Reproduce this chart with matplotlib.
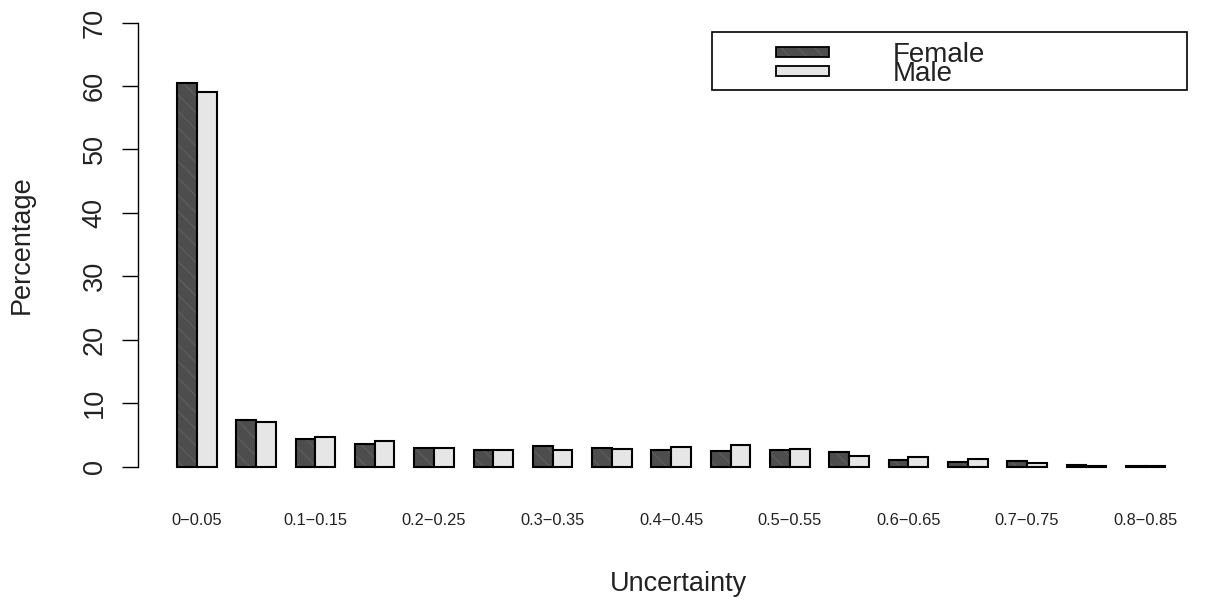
import numpy as np
import matplotlib.pyplot as plt
from matplotlib.patches import Rectangle

plt.rcParams['font.family'] = ['Liberation Sans', 'DejaVu Sans']
plt.rcParams['hatch.linewidth'] = 1.0

# uncertainty bins
categories = ["0\u22120.05", "0.05\u22120.1", "0.1\u22120.15", "0.15\u22120.2", "0.2\u22120.25",
              "0.25\u22120.3", "0.3\u22120.35", "0.35\u22120.4", "0.4\u22120.45", "0.45\u22120.5",
              "0.5\u22120.55", "0.55\u22120.6", "0.6\u22120.65", "0.65\u22120.7", "0.7\u22120.75",
              "0.75\u22120.8", "0.8\u22120.85"]
female = [60.5, 7.35, 4.4, 3.6, 2.9, 2.65, 3.3, 2.95, 2.6, 2.45, 2.55, 2.3, 1.07, 0.76, 0.82, 0.19, 0.05]
male = [59.0, 7.1, 4.65, 3.95, 2.9, 2.65, 2.6, 2.75, 3.1, 3.35, 2.8, 1.7, 1.5, 1.23, 0.5, 0.05, 0.15]
yticks = [0, 10, 20, 30, 40, 50, 60, 70]

W, H = 1213, 603
fig = plt.figure(figsize=(W / 100, H / 100), dpi=100)

def px(x, y):
    return (x / W, 1 - y / H)

left, right, top, bottom = 137.5, 1205, 4.9, 484.3
ax = fig.add_axes([left / W, 1 - bottom / H, (right - left) / W, (bottom - top) / H])
ax.set_xlim(-1, 53)
ax.set_ylim(-2.8, 72.8)

hatch_col = (0.36, 0.36, 0.36, 1)
idx = np.arange(len(categories))
ax.bar(3 * idx + 1, female, width=1, align='edge', color='#4d4d4d',
       edgecolor='black', linewidth=1.5, hatch='\\\\', zorder=2)
ax.bar(3 * idx + 2, male, width=1, align='edge', color='#e6e6e6',
       edgecolor='black', linewidth=1.5, zorder=2)
# hatch colour lighter than edge
for p in ax.patches[:len(categories)]:
    p._hatch_color = hatch_col

for s in ['top', 'right', 'bottom']:
    ax.spines[s].set_visible(False)
ax.spines['left'].set_bounds(0, 70)
ax.spines['left'].set_linewidth(1.0)
ax.set_yticks(yticks)
ax.set_yticklabels([str(v) for v in yticks], rotation=90, va='center', fontsize=19.5, color='#222222')
ax.tick_params(axis='y', length=11.5, width=1.0, pad=10)

ax.set_xticks(3 * idx + 2)
ax.set_xticklabels([c if i % 2 == 0 else '' for i, c in enumerate(categories)], fontsize=11.8, color='#222222')
ax.tick_params(axis='x', length=0, pad=21)

fig.text(*px(22, 245), "Percentage", rotation=90, ha='center', va='center', fontsize=19.5, color='#222222')
fig.text(*px(678.5, 584), "Uncertainty", ha='center', va='center', fontsize=19.5, color='#222222')

# legend (R style, overlapping labels)
fig.patches.append(Rectangle(px(712, 90), (1187 - 712) / W, (90 - 32) / H, transform=fig.transFigure,
                             facecolor='white', edgecolor='black', linewidth=1.2, zorder=5))
fig.patches.append(Rectangle(px(776, 57), 53 / W, 10.3 / H, transform=fig.transFigure,
                             facecolor='#4d4d4d', edgecolor='black', linewidth=1.3, hatch='\\\\', zorder=6))
fig.patches.append(Rectangle(px(776, 76), 53 / W, 10 / H, transform=fig.transFigure,
                             facecolor='#e6e6e6', edgecolor='black', linewidth=1.3, zorder=6))
fig.patches[1]._hatch_color = hatch_col
fig.text(*px(893, 61.7), "Female", ha='left', va='baseline', fontsize=20, color='#222222', zorder=7)
fig.text(*px(893, 81), "Male", ha='left', va='baseline', fontsize=20, color='#222222', zorder=7)

fig.savefig("out.png", dpi=100)
